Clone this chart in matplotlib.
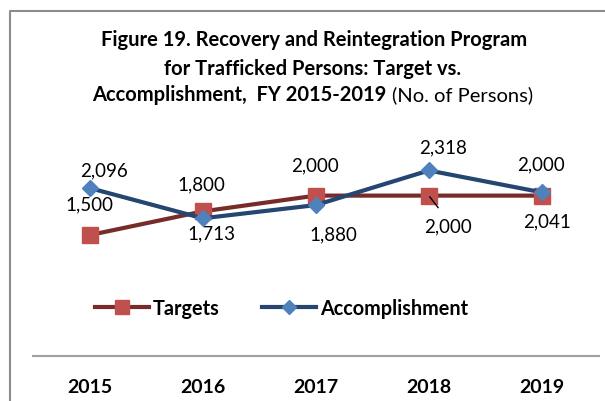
import matplotlib.pyplot as plt
from matplotlib.lines import Line2D

# Данные
years = ['2015', '2016', '2017', '2018', '2019']
targets = [1500, 1800, 2000, 2000, 2000]
accomplishment = [2096, 1713, 1880, 2318, 2041]

# Смещения подписей (в пикселях)
target_offsets = [(0, 31), (-1, 28), (-1, 31), (19, -30), (-1, 32)]
accomp_offsets = [(14, 18), (9, -15), (18, -29), (14, 24), (5, -29)]

plt.rcParams['font.family'] = ['Lato', 'DejaVu Sans']

fig = plt.figure(figsize=(6.05, 4.02), dpi=100)
W, H = 605, 402

ax = fig.add_axes([33 / W, 1 - 357 / H, 565.5 / W, 239.4 / H])
x = list(range(len(years)))

ax.plot(x, targets, color='#772C2A', lw=3, marker='s', ms=11.5,
        mfc='#C0504D', mec='#C0504D', label='Targets', zorder=3)
ax.plot(x, accomplishment, color='#254670', lw=3, marker='D', ms=8.5,
        mfc='#4F81BD', mec='#4F81BD', label='Accomplishment', zorder=4)

for i, v in enumerate(targets):
    dx, dy = target_offsets[i]
    kw = {}
    if i == 3:
        kw['arrowprops'] = dict(arrowstyle='-', color='black', lw=1,
                                shrinkA=6, shrinkB=1, relpos=(0.45, 1))
    ax.annotate(f'{v:,}', (i, v), xytext=(dx, dy), textcoords='offset pixels',
                ha='center', va='center', fontsize=13.5, **kw)

for i, v in enumerate(accomplishment):
    dx, dy = accomp_offsets[i]
    ax.annotate(f'{v:,}', (i, v), xytext=(dx, dy), textcoords='offset pixels',
                ha='center', va='center', fontsize=13.5)

ax.set_xlim(-0.5, 4.5)
ax.set_ylim(-30, 3000)
ax.set_yticks([])
ax.set_xticks(x)
ax.set_xticklabels(years, fontweight='bold', fontsize=14)
ax.tick_params(axis='x', length=0, pad=16)
for s in ['top', 'right', 'left']:
    ax.spines[s].set_visible(False)
ax.spines['bottom'].set_color('#A0A0A0')
ax.spines['bottom'].set_linewidth(1.5)
ax.patch.set_visible(False)

leg = fig.legend(loc='center', bbox_to_anchor=(281.5 / W, 1 - 309 / H), ncol=2,
                 frameon=False, handlelength=2.7, handletextpad=0.2,
                 columnspacing=2.15, markerscale=0.85,
                 prop={'weight': 'bold', 'size': 14.3})

# Заголовок
fs = 14.5
fig.text(314.5 / W, 1 - 46 / H, 'Figure 19. Recovery and Reintegration Program',
         ha='center', va='baseline', fontsize=fs, fontweight='bold')
fig.text(313 / W, 1 - 75 / H, 'for Trafficked Persons: Target vs.',
         ha='center', va='baseline', fontsize=fs, fontweight='bold')
r = fig.canvas.get_renderer()
t1 = fig.text(0, 1 - 101 / H, 'Accomplishment,  FY 2015-2019 ',
              va='baseline', fontsize=fs, fontweight='bold')
t2 = fig.text(0, 1 - 101 / H, '(No. of Persons)', va='baseline', fontsize=fs)
w1 = t1.get_window_extent(r).width
w2 = t2.get_window_extent(r).width
x0 = 312.5 - (w1 + w2) / 2
t1.set_x(x0 / W)
t2.set_x((x0 + w1) / W)

# Рамка
fig.add_artist(Line2D([9.5 / W, 9.5 / W, 1], [0, 1 - 11.5 / H, 1 - 11.5 / H],
                      transform=fig.transFigure, color='#8C8C8C', lw=1.5))

fig.savefig('out.png', dpi=100)
